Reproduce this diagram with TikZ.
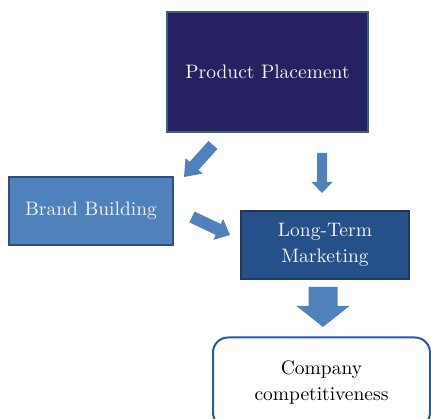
\documentclass[tikz,border=0pt]{standalone}
\usepackage{fontspec}
\setmainfont{lmroman10-regular.otf}
\usetikzlibrary{calc}
\definecolor{ppfill}{HTML}{262261}
\definecolor{ppline}{HTML}{41607F}
\definecolor{bbfill}{HTML}{4F81BD}
\definecolor{bbline}{HTML}{2F4F78}
\definecolor{ltfill}{HTML}{26508A}
\definecolor{ltline}{HTML}{1F3A5C}
\definecolor{ccline}{HTML}{2C5898}
\definecolor{arrowc}{HTML}{4F81BD}
\definecolor{offwhite}{HTML}{F4F4F4}
\newcommand\blockarrow[5]{%
  \coordinate (ba-base) at ($(#2)!#5!(#1)$);
  \fill[arrowc] ($(#1)!#3!90:(#2)$) -- ($(ba-base)!#3!90:(#2)$) -- ($(ba-base)!#4!90:(#2)$)
    -- (#2) -- ($(ba-base)!#4!-90:(#2)$) -- ($(ba-base)!#3!-90:(#2)$) -- ($(#1)!#3!-90:(#2)$) -- cycle;}
\begin{document}
\begin{tikzpicture}[x=1pt,y=-1pt,
  boxtext/.style={font=\fontsize{19.5}{26}\selectfont, align=center, inner sep=0pt},
  ppbox/.style={boxtext, draw=ppline, fill=ppfill, text=offwhite, line width=2pt},
  bbbox/.style={boxtext, draw=bbline, fill=bbfill, text=offwhite, line width=2pt},
  ltbox/.style={boxtext, draw=ltline, fill=ltfill, text=offwhite, line width=2pt},
  ccbox/.style={boxtext, draw=ccline, fill=white, text=black, line width=2pt, rounded corners=15pt}]
\useasboundingbox (0,0) rectangle (431,419);
\node[ppbox, minimum width=201pt, minimum height=120pt] (pp) at (267.5,72) {Product Placement};
\node[bbbox, minimum width=164pt, minimum height=68pt] (bb) at (91,211) {Brand Building};
\node[ltbox, minimum width=168pt, minimum height=68pt] (lt) at (325,245) {Long-Term\\Marketing};
\node[ccbox, minimum width=217pt, minimum height=90pt] (cc) at (321.5,382.5) {Company\\competitiveness};
% arrow end points
\coordinate (a1s) at (213,145);
\coordinate (a1t) at (184,177);
\coordinate (a2s) at (322,153);
\coordinate (a2t) at (322,193);
\coordinate (a3s) at (192,217);
\coordinate (a3t) at (230,235);
\coordinate (a4s) at (323,287);
\coordinate (a4t) at (323,327);
\blockarrow{a1s}{a1t}{6pt}{11.5pt}{15pt}
\blockarrow{a2s}{a2t}{5pt}{10.5pt}{11pt}
\blockarrow{a3s}{a3t}{6pt}{11.5pt}{13pt}
\blockarrow{a4s}{a4t}{14.5pt}{26.5pt}{21pt}
\end{tikzpicture}
\end{document}
